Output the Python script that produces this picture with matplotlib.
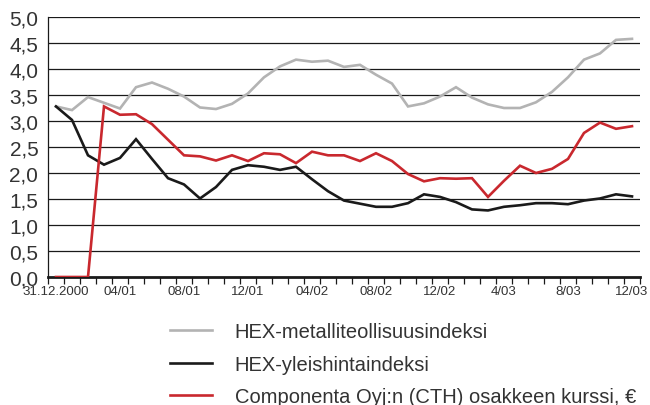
import numpy as np
import matplotlib
matplotlib.use("Agg")
import matplotlib.pyplot as plt
from matplotlib.lines import Line2D

plt.rcParams['font.family'] = ['Liberation Sans', 'DejaVu Sans']

# monthly values, 31.12.2000 ... 12/2003
metal = [3.28, 3.21, 3.46, 3.35, 3.24, 3.65, 3.74, 3.62, 3.47, 3.26,
         3.23, 3.33, 3.53, 3.84, 4.05, 4.18, 4.14, 4.16, 4.04, 4.08,
         3.89, 3.72, 3.28, 3.34, 3.47, 3.65, 3.45, 3.32, 3.25, 3.25,
         3.36, 3.56, 3.84, 4.18, 4.30, 4.56, 4.58]
general = [3.28, 3.02, 2.34, 2.16, 2.29, 2.65, 2.27, 1.90, 1.78, 1.51,
           1.73, 2.06, 2.15, 2.12, 2.06, 2.12, 1.88, 1.65, 1.47, 1.41,
           1.35, 1.35, 1.42, 1.59, 1.54, 1.44, 1.30, 1.28, 1.35, 1.38,
           1.42, 1.42, 1.40, 1.47, 1.51, 1.59, 1.55]
cth = [0.0, 0.0, 0.0, 3.28, 3.12, 3.13, 2.94, 2.64, 2.34, 2.32,
       2.24, 2.34, 2.23, 2.38, 2.36, 2.19, 2.41, 2.34, 2.34, 2.23,
       2.38, 2.23, 1.98, 1.84, 1.90, 1.89, 1.90, 1.54, 1.85, 2.14,
       2.00, 2.08, 2.27, 2.77, 2.97, 2.85, 2.90]
x_labels = ['31.12.2000', '04/01', '08/01', '12/01', '04/02',
            '08/02', '12/02', '4/03', '8/03', '12/03']
names = ['HEX-metalliteollisuusindeksi', 'HEX-yleishintaindeksi',
         'Componenta Oyj:n (CTH) osakkeen kurssi, \u20ac']
colors = ['#b3b3b3', '#1a1a1a', '#c9282e']

W, H = 650, 406
fig = plt.figure(figsize=(W / 100, H / 100), dpi=100)
ax = fig.add_axes([48 / W, 1 - 278 / H, (640 - 48) / W, (278 - 18) / H])

x = np.arange(len(metal))
for ys, c in zip([metal, general, cth], colors):
    ax.plot(x, ys, color=c, lw=1.9, solid_joinstyle='miter', zorder=3)

ax.set_xlim(-0.5, len(metal) - 0.5)
ax.set_ylim(0, 5.0)

yt = np.arange(0, 5.01, 0.5)
ax.set_yticks(yt)
ax.set_yticklabels([f"{v:.1f}".replace('.', ',') for v in yt])
for v in yt[1:]:
    ax.axhline(v, color='#1a1a1a', lw=0.9, zorder=1)
ax.tick_params(axis='y', length=0, pad=7, labelsize=15, labelcolor='#333333')

# tick marks at month boundaries, labels every 4 months
ax.set_xticks(np.arange(-0.5, len(metal), 1.0))
ax.set_xticklabels([])
ax.set_xticks(np.arange(0, len(metal), 4), minor=True)
ax.set_xticklabels(x_labels, minor=True)
ax.tick_params(axis='x', which='major', length=5, width=0.9, direction='out', color='#1a1a1a')
ax.tick_params(axis='x', which='minor', length=0, pad=6, labelsize=9.5, labelcolor='#333333')

for s in ['top', 'right']:
    ax.spines[s].set_visible(False)
ax.spines['left'].set_linewidth(0.9)
ax.spines['left'].set_color('#1a1a1a')
ax.spines['bottom'].set_linewidth(2.0)
ax.spines['bottom'].set_color('#1a1a1a')

handles = [Line2D([], [], color=c, lw=1.9) for c in colors]
fig.legend(handles, names, loc='upper left', bbox_to_anchor=(170 / W, 1 - 323 / H),
           frameon=False, fontsize=14.5, handlelength=2.07, handletextpad=1.14,
           labelspacing=0.68, borderpad=0, borderaxespad=0, labelcolor='#333333')

fig.savefig('out.png', dpi=100)
